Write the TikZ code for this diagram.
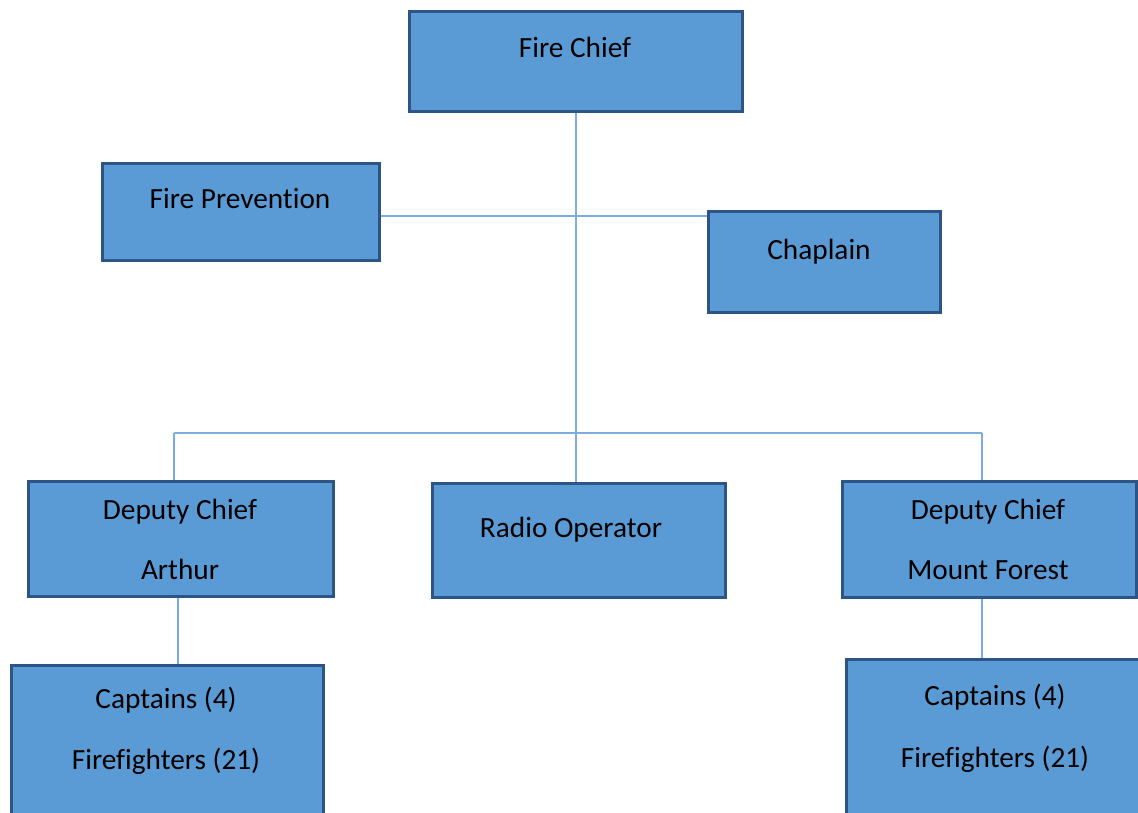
\documentclass[tikz,border=0pt]{standalone}
\usepackage{fontspec}
\setmainfont{Carlito}[Ligatures={NoCommon}]
\definecolor{boxfill}{RGB}{91,155,213}
\definecolor{boxline}{RGB}{44,84,132}
\definecolor{conn}{RGB}{125,172,222}
\begin{document}
\begin{tikzpicture}[x=1pt,y=-1pt,
  orgbox/.style={draw=boxline,fill=boxfill,line width=2.6pt,inner sep=0pt,anchor=north west},
  lbl/.style={anchor=base,inner sep=0pt,font=\fontsize{29.3}{35}\selectfont},
  link/.style={draw=conn,line width=1.5pt}]
\useasboundingbox (0,0) rectangle (1138,813);
\clip (0,0) rectangle (1138,813);
\node[orgbox,minimum width=333pt,minimum height=100pt] (chief) at (408,10) {};
\node[orgbox,minimum width=277pt,minimum height=97pt] (prev) at (101,162) {};
\node[orgbox,minimum width=232pt,minimum height=101pt] (chap) at (707,210) {};
\node[orgbox,minimum width=305pt,minimum height=115pt] (depA) at (27,480) {};
\node[orgbox,minimum width=293pt,minimum height=114pt] (radio) at (431,482) {};
\node[orgbox,minimum width=294pt,minimum height=116pt] (depM) at (841,480) {};
\node[orgbox,minimum width=312pt,minimum height=180pt] (capA) at (10,664) {};
\node[orgbox,minimum width=300pt,minimum height=180pt] (capM) at (845,658) {};
\node[lbl] (tchief) at (575,58) {Fire Chief};
\node[lbl] (tprev) at (240,209) {Fire Prevention};
\node[lbl] (tchap) at (819,259) {Chaplain};
\node[lbl] (tdepA1) at (180,519) {Deputy Chief};
\node[lbl] (tdepA2) at (180,579) {Arthur};
\node[lbl] (tradio) at (571,537) {Radio Operator};
\node[lbl] (tdepM1) at (988,519) {Deputy Chief};
\node[lbl] (tdepM2) at (988,579) {Mount Forest};
\node[lbl] (tcapA1) at (166,708) {Captains (4)};
\node[lbl] (tcapA2) at (166,769) {Firefighters (21)};
\node[lbl] (tcapM1) at (995,705) {Captains (4)};
\node[lbl] (tcapM2) at (995,767) {Firefighters (21)};
\coordinate (h1) at (0,216);
\coordinate (busL) at (174,433);
\coordinate (busR) at (982,433);
\coordinate (spine) at (576,0);
\coordinate (legA) at (178,0);
\draw[link] (spine |- chief.south) -- (spine |- radio.north);
\draw[link] (prev.east |- h1) -- (chap.west |- h1);
\draw[link] (busL) -- (busR);
\draw[link] (busL) -- (busL |- depA.north);
\draw[link] (busR) -- (busR |- depM.north);
\draw[link] (legA |- depA.south) -- (legA |- capA.north);
\draw[link] (busR |- depM.south) -- (busR |- capM.north);
\end{tikzpicture}
\end{document}
